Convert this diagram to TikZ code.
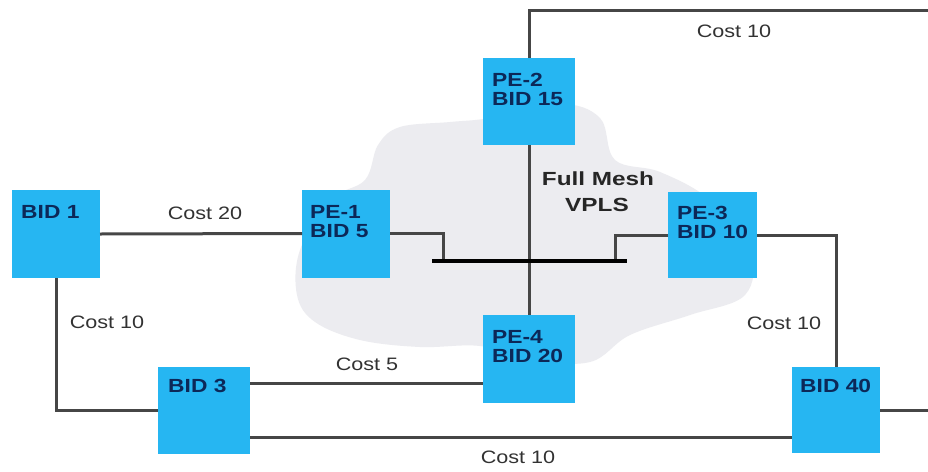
\documentclass[tikz,border=0pt]{standalone}
\usepackage{fontspec}
\setmainfont{Liberation Sans}
\definecolor{boxblue}{RGB}{38,182,242}
\definecolor{boxtext}{RGB}{12,40,88}
\definecolor{linegray}{RGB}{70,70,70}
\definecolor{costgray}{RGB}{50,50,50}
\definecolor{cloudgray}{RGB}{236,236,240}
\newcommand\wtxt[1]{\scalebox{1.2}[1]{#1}}
\newcommand\mtxt[1]{\scalebox{1.28}[1]{#1}}
\begin{document}
\begin{tikzpicture}[x=1pt,y=-1pt,
  box/.style={fill=boxblue, draw=none, minimum width=88pt, minimum height=88pt, inner sep=0pt, outer sep=0pt},
  boxtxt/.style={anchor=north west, inner sep=0pt, text=boxtext, font=\fontsize{19}{19}\selectfont\bfseries},
  link/.style={draw=linegray, line width=3pt},
  bus/.style={draw=black, line width=3.8pt},
  cost/.style={text=costgray, inner sep=0pt, font=\fontsize{18}{18}\selectfont},
  mesh/.style={text=black!85, inner sep=0pt, font=\fontsize{19}{19}\selectfont\bfseries}]
\useasboundingbox (0,0) rectangle (928,471);
\fill[white] (0,0) rectangle (928,471);
% cloud
\fill[cloudgray] plot[smooth cycle, tension=0.6] coordinates {
 (297,295) (300,250) (330,200) (365,180) (378,145) (400,127) (450,122) (490,118)
 (560,104) (600,118) (615,160) (660,172) (710,200) (750,250) (745,295) (690,315)
 (630,335) (590,362) (530,360) (480,346) (420,347) (360,340) (315,322)};
% boxes
\node[box] (bid1) at (56,234) {};
\node[box] (pe1) at (346,233.5) {};
\node[box, minimum width=92pt, minimum height=87pt] (pe2) at (529,101.5) {};
\node[box, minimum width=89pt, minimum height=86pt] (pe3) at (712.5,235) {};
\node[box, minimum width=92pt, minimum height=88pt] (pe4) at (529,359) {};
\node[box, minimum width=92pt, minimum height=87pt] (bid3) at (204,410.5) {};
\node[box, minimum width=88pt, minimum height=86pt] (bid40) at (836,410) {};
% helper coordinates
\coordinate (busL) at (432,261);
\coordinate (busR) at (627,261);
\coordinate (dropL) at (443,261);
\coordinate (dropR) at (615,261);
\coordinate (ycost5) at (0,383);
\coordinate (ybot) at (0,437);
\coordinate (topR) at (928,10);
\coordinate (rightR) at (928,410);
% connectors
\draw[link] (bid1.east) -- (pe1.west);
\draw[link] (bid1.south) |- (bid3.west);
\draw[link] (bid3.east |- ycost5) -- (pe4.west |- ycost5);
\draw[link] (bid3.east |- ybot) -- (bid40.west |- ybot);
\draw[link] (bid40.east) -- (rightR);
\draw[link] (pe3.east) -| (bid40.north);
\draw[link] (pe2.north) |- (topR);
\draw[link] (pe2.south) -- (pe4.north);
\draw[link] (pe1.east) -| (dropL);
\draw[link] (pe3.west) -| (dropR);
\draw[bus] (busL) -- (busR);
% box texts
\node[boxtxt] (bid1t) at ([xshift=9pt,yshift=-15pt]bid1.north west) {\wtxt{BID 1}};
\node[boxtxt] (pe1t) at ([xshift=8pt,yshift=-15pt]pe1.north west) {\wtxt{\begin{tabular}{@{}l@{}}PE-1\\BID 5\end{tabular}}};
\node[boxtxt] (pe2t) at ([xshift=9pt,yshift=-15pt]pe2.north west) {\wtxt{\begin{tabular}{@{}l@{}}PE-2\\BID 15\end{tabular}}};
\node[boxtxt] (pe3t) at ([xshift=9pt,yshift=-14pt]pe3.north west) {\wtxt{\begin{tabular}{@{}l@{}}PE-3\\BID 10\end{tabular}}};
\node[boxtxt] (pe4t) at ([xshift=9pt,yshift=-15pt]pe4.north west) {\wtxt{\begin{tabular}{@{}l@{}}PE-4\\BID 20\end{tabular}}};
\node[boxtxt] (bid3t) at ([xshift=10pt,yshift=-12pt]bid3.north west) {\wtxt{BID 3}};
\node[boxtxt] (bid40t) at ([xshift=8pt,yshift=-12pt]bid40.north west) {\wtxt{BID 40}};
% cost labels
\node[cost] (c20) at (205,213) {\wtxt{Cost 20}};
\node[cost] (c10top) at (734,31) {\wtxt{Cost 10}};
\node[cost] (c10left) at (107,322) {\wtxt{Cost 10}};
\node[cost] (c5) at (367,364) {\wtxt{Cost 5}};
\node[cost] (c10right) at (784,323) {\wtxt{Cost 10}};
\node[cost] (c10bot) at (518,457) {\wtxt{Cost 10}};
\node[mesh] (fm1) at (598,179) {\mtxt{Full Mesh}};
\node[mesh] (fm2) at (597,205) {\mtxt{VPLS}};
\end{tikzpicture}
\end{document}
